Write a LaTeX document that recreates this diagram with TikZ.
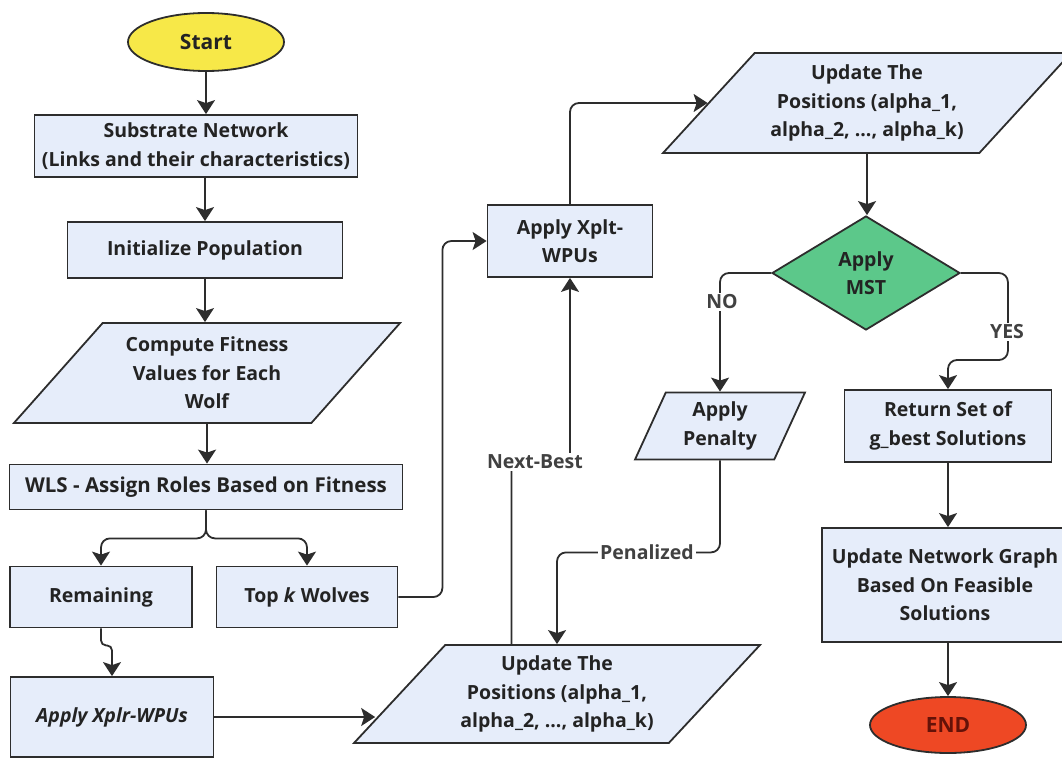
\documentclass[tikz,border=0pt]{standalone}
\usepackage{fontspec}
\setmainfont{Open Sans}
\usetikzlibrary{shapes.geometric,arrows.meta,calc}
\definecolor{boxfill}{RGB}{230,237,250}
\definecolor{linecol}{RGB}{45,45,45}
\definecolor{textcol}{RGB}{35,35,35}
\definecolor{labcol}{RGB}{65,65,65}
\definecolor{startfill}{RGB}{247,232,72}
\definecolor{endfill}{RGB}{238,72,36}
\definecolor{endtext}{RGB}{100,18,8}
\definecolor{mstfill}{RGB}{92,200,138}
\begin{document}
\begin{tikzpicture}[x=1pt,y=-1pt,
  base/.style={draw=linecol, line width=1.8pt, text=textcol,
    font=\fontsize{19.5}{28.5}\selectfont\bfseries, align=center, inner sep=2pt},
  proc/.style={base, rectangle, fill=boxfill},
  io/.style={base, trapezium, trapezium stretches=true, fill=boxfill},
  term/.style={base, ellipse, inner sep=0pt, font=\fontsize{21}{27}\selectfont\bfseries},
  conn/.style={draw=linecol, line width=1.8pt, rounded corners=9pt,
    -{Stealth[length=14pt,width=18pt,inset=3pt]}},
  lab/.style={fill=white, text=labcol, inner sep=2pt,
    font=\fontsize{19.5}{27}\selectfont\bfseries}]
\useasboundingbox (0,0) rectangle (1062,760);
\clip (0,0) rectangle (1062,760);

% nodes
\node[term, fill=startfill, text=textcol, minimum width=156pt, minimum height=58pt] (start) at (206,42) {Start};
\node[proc, minimum width=323pt, minimum height=62pt] (sub) at (196,146) {Substrate Network\\(Links and their characteristics)};
\node[proc, minimum width=275pt, minimum height=56pt] (init) at (205,250) {Initialize Population};
\node[io, trapezium left angle=47, trapezium right angle=133, minimum width=387pt, minimum height=100pt] (cf) at (207,373) {Compute Fitness\\Values for Each\\Wolf};
\node[proc, minimum width=393pt, minimum height=45pt, font=\fontsize{20.5}{28.5}\selectfont\bfseries] (wls) at (206,487) {WLS - Assign Roles Based on Fitness};
\node[proc, minimum width=182pt, minimum height=61pt] (rem) at (101,597) {Remaining};
\node[proc, minimum width=181pt, minimum height=61pt] (topk) at (307,597) {Top \textit{k} Wolves};
\node[proc, minimum width=203pt, minimum height=80pt] (xplr) at (112,717) {\textit{Apply Xplr-WPUs}};
\node[io, trapezium left angle=45, trapezium right angle=135, minimum width=408pt, minimum height=98pt] (bp) at (557,694) {Update The\\Positions (alpha\_1,\\alpha\_2, ..., alpha\_k)};
\node[proc, minimum width=165pt, minimum height=72pt] (xplt) at (570,241) {Apply Xplt-\\WPUs};
\node[io, trapezium left angle=45, trapezium right angle=135, minimum width=410pt, minimum height=100pt] (tp) at (867,103) {Update The\\Positions (alpha\_1,\\alpha\_2, ..., alpha\_k)};
\node[base, diamond, fill=mstfill, inner sep=0pt, minimum width=188pt, minimum height=114pt] (mst) at (866,273) {Apply\\MST};
\node[io, trapezium left angle=67, trapezium right angle=113, minimum width=170pt, minimum height=67pt] (pen) at (720,426) {Apply\\Penalty};
\node[proc, minimum width=207pt, minimum height=72pt] (ret) at (948,426) {Return Set of\\g\_best Solutions};
\node[proc, minimum width=246pt, minimum height=114pt] (upd) at (945,585) {Update Network Graph\\Based On Feasible\\Solutions};
\node[term, fill=endfill, text=endtext, minimum width=156pt, minimum height=56pt] (endn) at (948,725) {END};

% helper coordinates
\coordinate (bpin) at ($(bp.bottom left corner)!0.25!(bp.top left corner)$);
\coordinate (nbs) at ($(bp.top left corner)!0.21!(bp.top right corner)$);
\coordinate (nbpos) at (535,462);

% connectors
\draw[conn] (start.south) -- (start.south |- sub.north);
\draw[conn] (init.north |- sub.south) -- (init.north);
\draw[conn] (init.south) -- (init.south |- cf.north);
\draw[conn] (cf.south) -- (cf.south |- wls.north);
\draw[conn] (wls.south) -- ++(0,28) -| (rem.north);
\draw[conn] (wls.south) -- ++(0,28) -| (topk.north);
\draw[conn, rounded corners=5pt] (rem.south) -- ++(0,17) -| (xplr.north);
\draw[conn] (xplr.east) -- (xplr.east -| bpin);
\draw[conn] (topk.east) -- ++(44,0) |- (xplt.west);
\draw[conn] (xplt.north) |- (tp.left side);
\draw[conn] (tp.south) -- (tp.south |- mst.north);
\draw[conn] (mst.west) -| (pen.north);
\draw[conn] (mst.east) -- ++(47,0) -- ++(0,87) -| (ret.north);
\draw[conn] (pen.south) -- ++(0,92) -| (bp.north);
\draw[conn] (nbs) -- (nbs |- nbpos) -- (nbpos -| xplt.south) -- (xplt.south);
\draw[conn] (ret.south) -- (ret.south |- upd.north);
\draw[conn] (ret.south |- upd.south) -- (endn.north);

% labels
\node[lab] (no) at (722,302) {NO};
\node[lab] (yes) at (1007,332) {YES};
\node[lab] (nb) at (nbpos) {Next-Best};
\node[lab] (pz) at (647,552) {Penalized};
\end{tikzpicture}
\end{document}
